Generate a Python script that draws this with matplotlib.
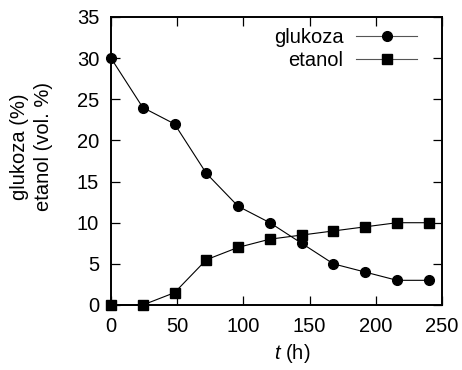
import matplotlib
matplotlib.use("Agg")
from matplotlib import pyplot as plt

t_hours = [0, 24, 48, 72, 96, 120, 144, 168, 192, 216, 240]
glukoza = [30, 24, 22, 16, 12, 10, 7.5, 5, 4, 3, 3]
etanol = [0, 0, 1.5, 5.5, 7, 8, 8.5, 9, 9.5, 10, 10]

plt.rcParams['font.family'] = ['Liberation Sans', 'DejaVu Sans']
plt.rcParams['font.size'] = 14.5
plt.rcParams['mathtext.fontset'] = 'custom'
plt.rcParams['mathtext.it'] = 'Liberation Sans:italic'

fig = plt.figure(figsize=(4.62, 3.70), dpi=100)
ax = fig.add_axes([111 / 462, 1 - 305 / 370, 331 / 462, 288 / 370])

ax.plot(t_hours, glukoza, color='black', lw=0.8, marker='o', markersize=7,
        label='glukoza', clip_on=False, zorder=3)
ax.plot(t_hours, etanol, color='black', lw=0.8, marker='s', markersize=7,
        label='etanol', clip_on=False, zorder=3)

ax.set_xlim(0, 250)
ax.set_ylim(0, 35)
ax.set_xticks(range(0, 251, 50))
ax.set_yticks(range(0, 36, 5))
ax.tick_params(direction='in', top=True, right=True, length=6.5, width=0.9)
ax.tick_params(axis='x', pad=8.5)
ax.tick_params(axis='y', pad=8.5)
for s in ax.spines.values():
    s.set_linewidth(1.4)

ax.set_xlabel('$t$ (h)')
ax.xaxis.set_label_coords(0.547, -0.13)
ax.set_ylabel('glukoza (%)\netanol (vol. %)', linespacing=1.35)
ax.yaxis.set_label_coords(-0.175, 0.55)

leg = ax.legend(loc='upper right', bbox_to_anchor=(0.924, 0.962),
                markerfirst=False, frameon=False, borderpad=0, borderaxespad=0,
                handlelength=3.0, labelspacing=0.2, handletextpad=0.65)
for line in leg.get_lines():
    line.set_color('#555555')
    line.set_markerfacecolor('black')
    line.set_markeredgecolor('black')

fig.savefig('out.png', dpi=100)
